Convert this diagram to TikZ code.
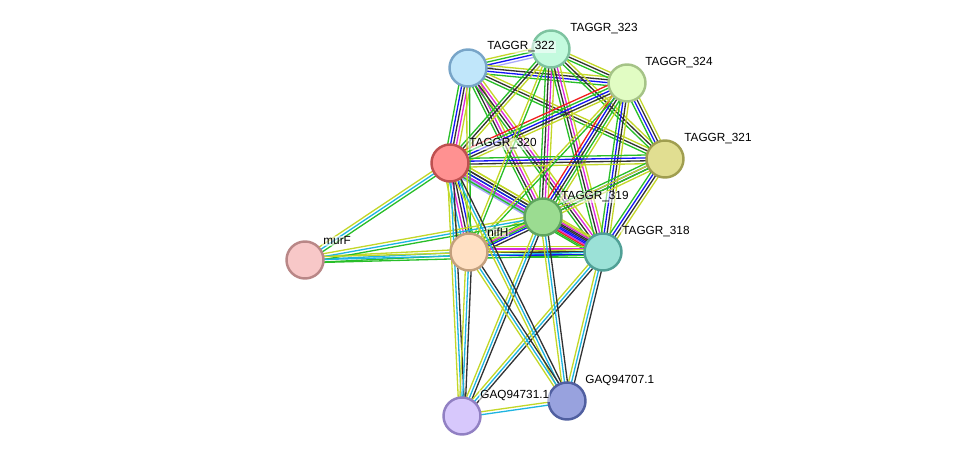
\documentclass[tikz,border=0pt]{standalone}
\usepackage{fontspec}
\setmainfont{Liberation Sans}
\usetikzlibrary{calc}

% evidence channel colours
\definecolor{cnb}{RGB}{40,190,40}
\definecolor{cfu}{RGB}{240,30,30}
\definecolor{cco}{RGB}{20,20,245}
\definecolor{ccx}{RGB}{50,50,50}
\definecolor{cex}{RGB}{220,40,220}
\definecolor{cdb}{RGB}{30,180,225}
\definecolor{ctm}{RGB}{195,215,40}
\definecolor{cho}{RGB}{170,170,250}

% protein fill / rim colours
\definecolor{f322}{RGB}{192,230,250}\definecolor{b322}{RGB}{120,165,200}
\definecolor{f323}{RGB}{195,250,222}\definecolor{b323}{RGB}{125,195,160}
\definecolor{f324}{RGB}{225,252,195}\definecolor{b324}{RGB}{165,195,135}
\definecolor{f321}{RGB}{225,222,145}\definecolor{b321}{RGB}{160,158,80}
\definecolor{f320}{RGB}{255,145,145}\definecolor{b320}{RGB}{190,80,80}
\definecolor{f319}{RGB}{155,220,145}\definecolor{b319}{RGB}{95,165,95}
\definecolor{f318}{RGB}{155,225,215}\definecolor{b318}{RGB}{80,160,150}
\definecolor{fnif}{RGB}{255,224,195}\definecolor{bnif}{RGB}{195,160,125}
\definecolor{fmur}{RGB}{248,200,200}\definecolor{bmur}{RGB}{185,135,135}
\definecolor{f731}{RGB}{215,200,252}\definecolor{b731}{RGB}{145,128,195}
\definecolor{f707}{RGB}{152,162,222}\definecolor{b707}{RGB}{80,95,160}

\pgfdeclarelayer{edges}
\pgfsetlayers{edges,main}

\tikzset{
  prot/.style={circle,draw,line width=1.4pt,minimum size=0.74cm,inner sep=0pt},
  lbl/.style={anchor=west,inner sep=0.6pt,font=\fontsize{6.7}{8}\selectfont,
    fill=white,fill opacity=0.55,text opacity=1},
  enb/.style={draw=cnb,line width=0.75pt},
  efu/.style={draw=cfu,line width=0.75pt},
  eco/.style={draw=cco,line width=0.75pt},
  ecx/.style={draw=ccx,line width=0.75pt},
  eex/.style={draw=cex,line width=0.75pt},
  edb/.style={draw=cdb,line width=0.75pt},
  etm/.style={draw=ctm,line width=0.75pt},
  eho/.style={draw=cho,line width=0.75pt},
  ehothick/.style={draw=cho,line width=2.6pt},
}

% one bundle of parallel lines between two proteins
\newcommand{\lnk}[3]{%
  \foreach \c [count=\k] in {#3} {\xdef\nlines{\k}}%
  \foreach \c [count=\k] in {#3} {%
    \pgfmathsetmacro\off{(\k-(\nlines+1)/2)*1.65}%
    \draw[\c] ($(#1)!\off pt!90:(#2)$) -- ($(#2)!\off pt!-90:(#1)$);
  }}

\begin{document}
\begin{tikzpicture}[x=0.02cm,y=-0.02cm]
\useasboundingbox (0,0) rectangle (975,462);
\node[prot,fill=f322,draw=b322] (t322) at (468,68) {};
\node[prot,fill=f323,draw=b323] (t323) at (551,49) {};
\node[prot,fill=f324,draw=b324] (t324) at (627,83) {};
\node[prot,fill=f321,draw=b321] (t321) at (665,159) {};
\node[prot,fill=f320,draw=b320] (t320) at (450,163) {};
\node[prot,fill=f319,draw=b319] (t319) at (543,217) {};
\node[prot,fill=f318,draw=b318] (t318) at (603,252) {};
\node[prot,fill=fnif,draw=bnif] (nifh) at (469,252) {};
\node[prot,fill=fmur,draw=bmur] (murf) at (305,260) {};
\node[prot,fill=f731,draw=b731] (g731) at (462,416) {};
\node[prot,fill=f707,draw=b707] (g707) at (567,401) {};

\node[lbl] (l322) at (486,47) {TAGGR\_322};
\node[lbl] (l323) at (569,29) {TAGGR\_323};
\node[lbl] (l324) at (644,63) {TAGGR\_324};
\node[lbl] (l321) at (683,139) {TAGGR\_321};
\node[lbl] (l320) at (468,144) {TAGGR\_320};
\node[lbl] (l319) at (560,197) {TAGGR\_319};
\node[lbl] (l318) at (621,232) {TAGGR\_318};
\node[lbl] (lnif) at (486,232) {nifH};
\node[lbl] (lmur) at (322,241) {murF};
\node[lbl] (l731) at (479,396) {GAQ94731.1};
\node[lbl] (l707) at (584,381) {GAQ94707.1};

\begin{pgfonlayer}{edges}
% TAGGR operon
\lnk{t322}{t323}{eho,eco,enb,etm}
\lnk{t322}{t324}{enb,eco,ecx,etm}
\lnk{t322}{t321}{enb,ecx,etm}
\lnk{t322}{t320}{enb,eco,ecx,eex,etm}
\lnk{t322}{t319}{enb,ecx,eex,etm}
\lnk{t322}{t318}{enb,ecx,eex,etm}
\lnk{t323}{t324}{enb,ecx,etm}
\lnk{t323}{t321}{enb,ecx,etm}
\lnk{t323}{t320}{enb,ecx,etm}
\lnk{t323}{t319}{enb,ecx,eex,etm}
\lnk{t323}{t318}{enb,ecx,eex,etm}
\lnk{t324}{t321}{enb,eco,ecx,etm}
\lnk{t324}{t320}{efu,enb,eco,ecx,etm}
\lnk{t324}{t319}{efu,eco,ecx,enb,etm}
\lnk{t324}{t318}{enb,eco,ecx,etm}
\lnk{t321}{t320}{enb,eco,ecx,etm}
\lnk{t321}{t319}{enb,eco,ecx,etm}
\lnk{t321}{t318}{enb,eco,ecx,etm}
\lnk{t320}{t319}{ehothick,eco,enb,ecx,etm}
\lnk{t320}{t318}{enb,eex,eco,ecx,etm}
\lnk{t319}{t318}{enb,efu,eco,ecx,eex,etm}
% nifH
\lnk{nifh}{t320}{enb,eco,ecx,eex,edb,etm}
\lnk{nifh}{t319}{ecx,eco,eex,enb,etm}
\lnk{nifh}{t318}{enb,eco,ecx,eex,etm}
\lnk{nifh}{t322}{enb,etm}
\lnk{nifh}{t323}{enb,etm}
\lnk{nifh}{t324}{enb,etm}
\lnk{nifh}{t321}{enb,etm}
% murF
\lnk{murf}{t320}{enb,edb,etm}
\lnk{murf}{nifh}{enb,edb,etm}
\lnk{murf}{t319}{enb,edb,etm}
\lnk{murf}{t318}{enb,edb,etm}
% GAQ proteins
\lnk{g731}{t320}{ecx,edb,etm}
\lnk{g731}{nifh}{ecx,edb,etm}
\lnk{g731}{t319}{ecx,edb,etm}
\lnk{g731}{t318}{ecx,edb,etm}
\lnk{g707}{t320}{ecx,edb,etm}
\lnk{g707}{nifh}{ecx,edb,etm}
\lnk{g707}{t319}{ecx,edb,etm}
\lnk{g707}{t318}{ecx,edb,etm}
\lnk{g731}{g707}{edb,etm}
\end{pgfonlayer}
\end{tikzpicture}
\end{document}
